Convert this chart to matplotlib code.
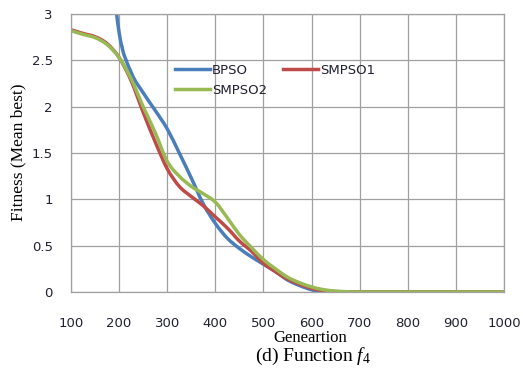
import numpy as np
import matplotlib
matplotlib.use('Agg')
import matplotlib.pyplot as plt
from matplotlib.path import Path
from matplotlib.patches import PathPatch

plt.rcParams['mathtext.fontset'] = 'custom'
plt.rcParams['mathtext.rm'] = 'Liberation Serif'
plt.rcParams['mathtext.it'] = 'Liberation Serif:italic'

# Generations (x axis)
gen = [100, 125, 150, 175, 200, 225, 250, 275, 300, 325, 350, 375, 400, 425, 450,
       475, 500, 525, 550, 575, 600, 625, 650, 675, 700, 800, 900, 1000]

# Mean best fitness (BPSO starts off the top of the chart)
bpso = [np.nan, np.nan, np.nan, 4.0, 2.80, 2.37, 2.15, 1.96, 1.76, 1.50, 1.23, 0.95, 0.74, 0.58, 0.47,
        0.38, 0.30, 0.22, 0.13, 0.07, 0.025, 0.005, 0.0, 0.0, 0.0, 0.0, 0.0, 0.0]
smpso1 = [2.83, 2.79, 2.755, 2.68, 2.53, 2.28, 1.94, 1.62, 1.33, 1.14, 1.03, 0.93, 0.81, 0.69, 0.55,
          0.44, 0.31, 0.22, 0.14, 0.085, 0.04, 0.015, 0.004, 0.0, 0.0, 0.0, 0.0, 0.0]
smpso2 = [2.82, 2.78, 2.745, 2.67, 2.53, 2.30, 2.00, 1.72, 1.41, 1.25, 1.14, 1.06, 0.97, 0.80, 0.62,
          0.48, 0.35, 0.25, 0.16, 0.10, 0.055, 0.025, 0.01, 0.003, 0.0, 0.0, 0.0, 0.0]

xticks = [100, 200, 300, 400, 500, 600, 700, 800, 900, 1000]
yticks = [0, 0.5, 1, 1.5, 2, 2.5, 3]
ytick_labels = ['0', '0.5', '1', '1.5', '2', '2.5', '3']


def smooth_path(xs, ys):
    # Excel-like "smoothed line": cubic bezier segments through the data points
    pts = np.array([(x, y) for x, y in zip(xs, ys) if not np.isnan(y)], dtype=float)
    verts = [pts[0]]
    codes = [Path.MOVETO]
    n = len(pts)
    for i in range(n - 1):
        p0 = pts[i - 1] if i > 0 else pts[i]
        p1 = pts[i]
        p2 = pts[i + 1]
        p3 = pts[i + 2] if i + 2 < n else pts[i + 1]
        verts += [p1 + (p2 - p0) / 6.0, p2 - (p3 - p1) / 6.0, p2]
        codes += [Path.CURVE4] * 3
    return Path(verts, codes)


fig = plt.figure(figsize=(5.23, 3.74), dpi=100)
ax = fig.add_axes([71 / 523, 1 - 292 / 374, (504 - 71) / 523, (292 - 14) / 374])

series = [('BPSO', bpso, '#4A7EBB'), ('SMPSO1', smpso1, '#BE4B48'), ('SMPSO2', smpso2, '#98B954')]
handles = {}
for name, vals, col in series:
    ax.add_patch(PathPatch(smooth_path(gen, vals), fill=False, edgecolor=col, lw=2.5,
                           capstyle='round', joinstyle='round', clip_on=True))
    handles[name], = ax.plot([], [], color=col, lw=2.5)

ax.set_xlim(100, 1000)
ax.set_ylim(0, 3)
ax.set_xticks(xticks)
ax.set_yticks(yticks)
ax.set_yticklabels(ytick_labels)
ax.grid(True, color='#A0A0A0', lw=0.9)
ax.set_axisbelow(True)
for s in ax.spines.values():
    s.set_color('#A0A0A0')
    s.set_linewidth(0.9)
ax.tick_params(length=0, labelsize=9.5, colors='#202030')
ax.tick_params(axis='x', pad=18)
ax.tick_params(axis='y', pad=13)

# legend: BPSO / SMPSO1 on first row, SMPSO2 below
ax.legend([handles['BPSO'], handles['SMPSO2'], handles['SMPSO1']], ['BPSO', 'SMPSO2', 'SMPSO1'],
          ncol=2, frameon=False, loc='upper left', bbox_to_anchor=(175 / 523, 1 - 64 / 374),
          bbox_transform=fig.transFigure, borderaxespad=0, borderpad=0,
          handlelength=2.65, handletextpad=0.15, columnspacing=1.2,
          labelspacing=0.5, prop={'size': 9.5}, labelcolor='#202030')

fig.text(18 / 523, 1 - 152 / 374, 'Fitness (Mean best)', rotation=90, ha='center', va='center',
         family='Liberation Serif', fontsize=12.5)
fig.text(310 / 523, 1 - 338 / 374, 'Geneartion', ha='center', va='center',
         family='Liberation Serif', fontsize=12)
fig.text(313 / 523, 1 - 356 / 374, '(d) Function $f_4$', ha='center', va='center',
         family='Liberation Serif', fontsize=14)

fig.savefig('out.png', dpi=100)
